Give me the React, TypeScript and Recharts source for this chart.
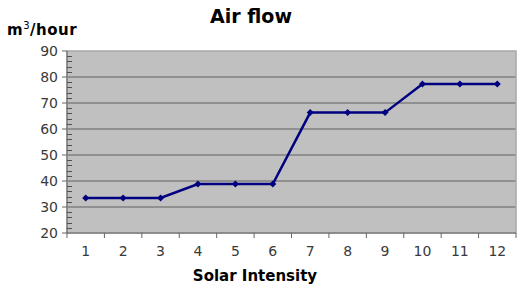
import { LineChart, Line, XAxis, YAxis, CartesianGrid, ReferenceArea } from 'recharts';

const intensity = [1, 2, 3, 4, 5, 6, 7, 8, 9, 10, 11, 12];
const airFlow = [33.5, 33.5, 33.5, 38.8, 38.8, 38.8, 66.3, 66.3, 66.3, 77.3, 77.3, 77.3];
// every 2 units: multiples of 10 get a label, the rest are minor ticks
const yTicks = [20, 22, 24, 26, 28, 30, 32, 34, 36, 38, 40, 42, 44, 46, 48, 50, 52, 54, 56, 58, 60, 62, 64, 66, 68, 70, 72, 74, 76, 78, 80, 82, 84, 86, 88, 90];
const gridValues = [30, 40, 50, 60, 70, 80];
const bandEdges = [0.5, 1.5, 2.5, 3.5, 4.5, 5.5, 6.5, 7.5, 8.5, 9.5, 10.5, 11.5, 12.5];

const data = intensity.map((x, i) => ({ x, flow: airFlow[i] }));

const W = 526;
const H = 289;
const margin = { top: 51, right: 10, left: 0, bottom: 0 };
const yAxisWidth = 67;
const xAxisHeight = 56;
const plotLeft = margin.left + yAxisWidth;
const plotWidth = W - margin.right - plotLeft;
const plotHeight = H - margin.top - xAxisHeight;
const halfBand = plotWidth / intensity.length / 2;

const font = 'Verdana, "DejaVu Sans", sans-serif';

const Diamond = (props: any) => {
  const { cx, cy } = props;
  if (cx == null || cy == null) return null;
  const r = 3.5;
  return <path d={`M${cx},${cy - r}L${cx + r},${cy}L${cx},${cy + r}L${cx - r},${cy}Z`} fill="#000080" />;
};

const XTick = (props: any) => {
  const { x, y, payload } = props;
  if (payload.value > 12) return null;
  return (
    <text x={x + halfBand} y={y + 16} textAnchor="middle" fill="#3a3a3a" fontSize={14} fontFamily={font}>
      {payload.value + 0.5}
    </text>
  );
};

const YTick = (props: any) => {
  const { x, y, payload } = props;
  const major = payload.value % 10 === 0;
  if (!major) {
    return <path d={`M${x},${Math.round(y) + 0.5}h5`} stroke="#505050" strokeWidth={1} fill="none" />;
  }
  return (
    <g>
      <path d={`M${x - 5},${y}H${x}`} stroke="#666" fill="none" />
      <text x={x - 9} y={y} dy={5} textAnchor="end" fill="#3a3a3a" fontSize={14} fontFamily={font}>
        {payload.value}
      </text>
    </g>
  );
};

export default function App() {
  return (
    <div style={{ position: 'absolute', left: 0, top: 0, width: W, height: H, background: '#fff' }}>
      <div style={{ position: 'absolute', left: plotLeft, top: margin.top, width: plotWidth, height: plotHeight, background: '#c0c0c0' }} />
      <div style={{ position: 'absolute', left: 0, width: 502, top: 5, textAlign: 'center', fontFamily: font, fontWeight: 'bold', fontSize: 19, color: '#000' }}>
        Air flow
      </div>
      <div style={{ position: 'absolute', left: 7, top: 20, fontFamily: font, fontWeight: 'bold', fontSize: 15, color: '#000', letterSpacing: 0.5 }}>
        m<sup style={{ fontSize: 10, fontWeight: 'normal' }}>3</sup>/hour
      </div>
      <div style={{ position: 'absolute', left: 0, width: 510, top: 267, textAlign: 'center', fontFamily: font, fontWeight: 'bold', fontSize: 15, color: '#000' }}>
        Solar Intensity
      </div>
      <div style={{ position: 'absolute', left: 0, top: 0 }}>
        <LineChart width={W} height={H} data={data} margin={margin}>
          <CartesianGrid
            vertical={false}
            stroke="#808080"
            strokeWidth={1.5}
            horizontalValues={gridValues}
          />
          <ReferenceArea x1={0.5} x2={12.5} y1={20} y2={90} fill="none" stroke="#a8a8a8" strokeWidth={1.5} />
          <XAxis
            dataKey="x"
            type="number"
            domain={[0.5, 12.5]}
            ticks={bandEdges}
            interval={0}
            height={xAxisHeight}
            tickSize={5}
            stroke="#666"
            tick={<XTick />}
          />
          <YAxis
            domain={[20, 90]}
            ticks={yTicks}
            interval={0}
            width={yAxisWidth}
            tickSize={0}
            tickMargin={0}
            tickLine={false}
            stroke="#666"
            tick={<YTick />}
          />
          <Line
            dataKey="flow"
            stroke="#000080"
            strokeWidth={2.5}
            dot={<Diamond />}
            activeDot={false}
            isAnimationActive={false}
          />
        </LineChart>
      </div>
    </div>
  );
}
